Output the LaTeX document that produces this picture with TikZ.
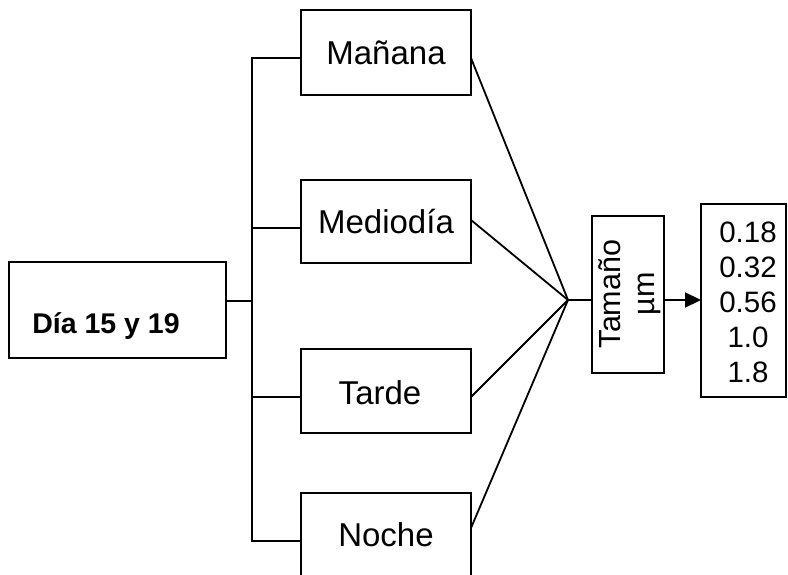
\documentclass[tikz,border=0pt]{standalone}
\usepackage{fontspec}
\setmainfont{Liberation Sans}
\usetikzlibrary{arrows.meta}
\begin{document}
\begin{tikzpicture}[x=1pt,y=-1pt,line width=1.8pt,
  box/.style={draw,line width=1.8pt,inner sep=0pt,outer sep=0pt},
  big/.style={font=\fontsize{33}{39}\selectfont},
  mid/.style={font=\fontsize{29.5}{35}\selectfont}]
\useasboundingbox (0,0) rectangle (788,575);
\fill[white] (0,0) rectangle (788,575);
% boxes
\node[box,minimum width=217pt,minimum height=96pt] (dia) at (117.5,310) {};
\node[anchor=base,font=\bfseries\fontsize{28.5}{34}\selectfont] (dialabel) at (106,333) {Día 15 y 19};
\node[box,big,minimum width=170pt,minimum height=85pt] (manana) at (386,52.5) {Mañana};
\node[box,big,minimum width=170pt,minimum height=83pt] (medio) at (386,221.5) {Mediodía};
\node[box,minimum width=170pt,minimum height=84pt] (tarde) at (386,391) {};
\node[big] (tardetext) at (380,393) {Tarde};
\node[box,big,minimum width=170pt,minimum height=84pt] (noche) at (386,535) {Noche};
\node[box,minimum width=72pt,minimum height=157pt] (tam) at (628,294.5) {};
\node[rotate=90,align=center,font=\fontsize{30.5}{34}\selectfont] (tamtext) at (630,294) {Tamaño\\µm};
\node[box,minimum width=85pt,minimum height=193pt] (vals) at (743.5,300.5) {};
\node[mid,align=center] (valtext) at (748,302) {0.18\\0.32\\0.56\\1.0\\1.8};
% branch
\coordinate (bj) at (252,301);
\coordinate (c) at (568,300);
\draw ([yshift=9pt]dia.east) -- (bj);
\draw ([yshift=-5.5pt]manana.west) -| (bj);
\draw ([yshift=-6.5pt]medio.west) -| (bj);
\draw ([yshift=-6pt]tarde.west) -| (bj);
\draw ([yshift=-6pt]noche.west) -| (bj);
% converging lines
\draw ([yshift=-5.5pt]manana.east) -- (c);
\draw ([yshift=1.5pt]medio.east) -- (c);
\draw ([yshift=-6pt]tarde.east) -- (c);
\draw ([yshift=7pt]noche.east) -- (c);
\draw (c) -- (c -| tam.west);
\draw[line width=2.2pt,-{Triangle[length=16pt,width=15pt]}] (c -| tam.east) -- (c -| vals.west);
\end{tikzpicture}
\end{document}
